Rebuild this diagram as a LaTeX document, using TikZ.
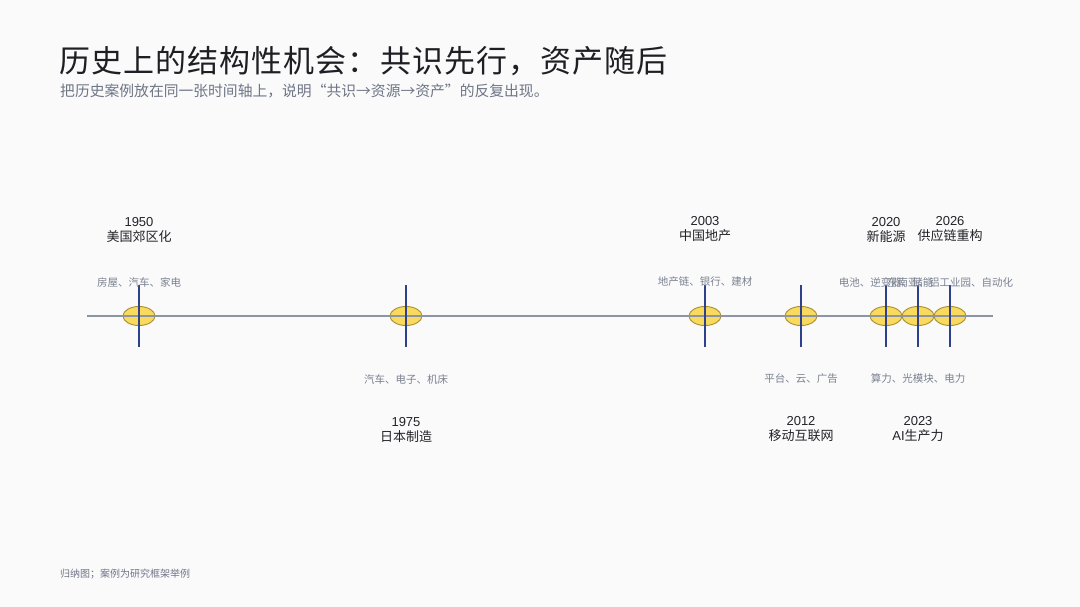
\documentclass[tikz,border=0pt]{standalone}
\usepackage{fontspec}
\setmainfont{Noto Sans CJK SC}
\newfontfamily\latinf{Liberation Sans}
\usetikzlibrary{shapes.geometric}
\definecolor{bgc}{HTML}{FAFAFB}
\definecolor{titlec}{HTML}{1E1E24}
\definecolor{subc}{HTML}{6E7585}
\definecolor{axisc}{HTML}{8C95A3}
\definecolor{tickc}{HTML}{2D418C}
\definecolor{dotc}{HTML}{F9DA5E}
\definecolor{dotb}{HTML}{A88E2E}
\definecolor{itemc}{HTML}{7A8190}
\definecolor{evc}{HTML}{222228}
\begin{document}
\begin{tikzpicture}[x=1pt,y=-1pt,
  dot/.style={ellipse,draw=dotb,fill=dotc,line width=0.9pt,minimum width=32pt,minimum height=19pt,inner sep=0pt},
  evlabel/.style={align=center,text=evc,font=\fontsize{13}{15}\selectfont,inner sep=0pt},
  itemlabel/.style={text=itemc,font=\fontsize{10.5}{12}\selectfont,inner sep=0pt},
  tickline/.style={draw=tickc,line width=1.3pt},
  axisline/.style={draw=axisc,line width=2.4pt}]
\fill[bgc] (0,0) rectangle (1080,607);
\useasboundingbox (0,0) rectangle (1080,607);
% title
\node[anchor=west,text=titlec,font=\fontsize{31}{34}\selectfont\addfontfeature{LetterSpace=3.5},inner sep=0pt] (title) at (59,61) {历史上的结构性机会：共识先行，资产随后};
\node[anchor=west,text=subc,font=\fontsize{14.8}{17}\selectfont,inner sep=0pt] (sub) at (60,91) {把历史案例放在同一张时间轴上，说明“共识→资源→资产”的反复出现。};
% axis endpoints
\coordinate (aL) at (87,316);
\coordinate (aR) at (993,316);
% dots
\node[dot] (d1) at (139,316) {};
\node[dot] (d2) at (406,316) {};
\node[dot] (d3) at (705,316) {};
\node[dot] (d4) at (801,316) {};
\node[dot] (d5) at (886,316) {};
\node[dot] (d6) at (918,316) {};
\node[dot] (d7) at (950,316) {};
\draw[axisline] (aL) -- (aR);
\foreach \n in {d1,d2,d3,d4,d5,d6,d7}{
  \draw[tickline] (\n.center) ++(0,-31) -- ++(0,62);
}
% above labels
\node[evlabel] (e1) at (139,229.5) {{\latinf 1950}\\美国郊区化};
\node[itemlabel] (i1) at (139,282) {房屋、汽车、家电};
\node[evlabel] (e3) at (705,229.5) {{\latinf 2003}\\中国地产};
\node[itemlabel] (i3) at (705,282) {地产链、银行、建材};
\node[evlabel] (e5) at (886,229.5) {{\latinf 2020}\\新能源};
\node[itemlabel] (i5) at (886,282) {电池、逆变器、储能};
\node[evlabel] (e7) at (950,229.5) {{\latinf 2026}\\供应链重构};
\node[itemlabel] (i7) at (950,282) {东南亚、铝工业园、自动化};
% below labels
\node[itemlabel] (i2) at (406,379) {汽车、电子、机床};
\node[evlabel] (e2) at (406,429.5) {{\latinf 1975}\\日本制造};
\node[itemlabel] (i4) at (801,379) {平台、云、广告};
\node[evlabel] (e4) at (801,429.5) {{\latinf 2012}\\移动互联网};
\node[itemlabel] (i6) at (918,379) {算力、光模块、电力};
\node[evlabel] (e6) at (918,429.5) {{\latinf 2023}\\{\latinf AI}生产力};
% footnote
\node[anchor=west,text=subc,font=\fontsize{10}{12}\selectfont,inner sep=0pt] (foot) at (60,574) {归纳图；案例为研究框架举例};
\end{tikzpicture}
\end{document}
